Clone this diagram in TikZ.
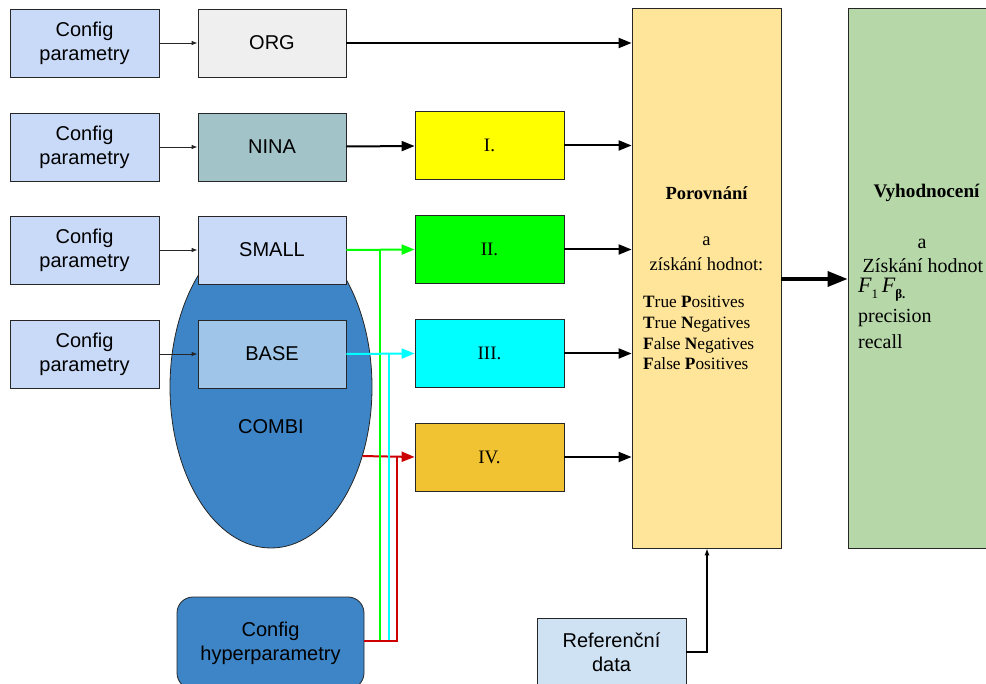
\documentclass[tikz,border=0pt]{standalone}
\usepackage{fontspec}
\setmainfont{Liberation Serif}
\setsansfont{Liberation Sans}
\usetikzlibrary{arrows.meta,shapes.geometric}

\definecolor{cfgblue}{HTML}{C9DAF8}
\definecolor{orggray}{HTML}{EFEFEF}
\definecolor{ninateal}{HTML}{A2C4C9}
\definecolor{basebl}{HTML}{9FC5E8}
\definecolor{combibl}{HTML}{3D85C6}
\definecolor{refbl}{HTML}{CFE2F3}
\definecolor{boxyel}{HTML}{FFFF00}
\definecolor{boxgrn}{HTML}{00FF00}
\definecolor{boxcyn}{HTML}{00FFFF}
\definecolor{boxorg}{HTML}{F1C232}
\definecolor{porfill}{HTML}{FFE599}
\definecolor{vyhfill}{HTML}{B6D7A8}
\definecolor{linegrn}{HTML}{00FF00}
\definecolor{linecyn}{HTML}{00FFFF}
\definecolor{linered}{HTML}{CC0000}

\begin{document}
\begin{tikzpicture}[x=1pt,y=-1pt,
  sansfont/.style={font=\sffamily\fontsize{20}{24}\selectfont},
  seriffont/.style={font=\rmfamily\fontsize{18.5}{21}\selectfont},
  listfont/.style={font=\rmfamily\fontsize{17.3}{20.7}\selectfont},
  evalfont/.style={font=\rmfamily\fontsize{20}{24}\selectfont},
  box/.style={draw=black!85, line width=0.8pt, minimum width=149pt,
    minimum height=68pt, inner sep=0pt, align=center, sansfont},
  numbox/.style={box, font=\rmfamily\fontsize{19}{22}\selectfont},
  tallbox/.style={draw=black!85, line width=0.8pt, minimum width=149pt,
    minimum height=540pt, inner sep=0pt},
  thin/.style={draw=black!85, line width=0.8pt, -{Latex[length=6pt,width=4.5pt]}},
  reflink/.style={draw=black, line width=1.1pt, -{Latex[length=7pt,width=5pt]}},
  flow/.style={line width=2pt, -{Triangle[length=13pt,width=10pt]}},
  bigflow/.style={line width=3.5pt, -{Triangle[length=20pt,width=15pt]}},
  wire/.style={line width=2pt},
  lbl/.style={inner sep=0pt, anchor=center}]

\useasboundingbox (0,0) rectangle (986,684);
\clip (0,0) rectangle (986,684);

% COMBI ellipse behind the SMALL and BASE models
\node[ellipse, draw=black!85, line width=0.8pt, fill=combibl,
  minimum width=202pt, minimum height=322pt, inner sep=0pt] (combi) at (271,387) {};
\node[lbl, sansfont] (combilbl) at (271,427) {COMBI};

% parameter boxes
\node[box, fill=cfgblue] (cfg1) at (84.5,43)  {Config\\parametry};
\node[box, fill=cfgblue] (cfg2) at (84.5,147) {Config\\parametry};
\node[box, fill=cfgblue] (cfg3) at (84.5,250) {Config\\parametry};
\node[box, fill=cfgblue] (cfg4) at (84.5,354) {Config\\parametry};

% models
\node[box, minimum width=148pt, fill=orggray]  (org)   at (272,43)  {ORG};
\node[box, minimum width=148pt, fill=ninateal] (nina)  at (272,147) {NINA};
\node[box, minimum width=148pt, fill=cfgblue]  (small) at (272,250) {SMALL};
\node[box, minimum width=148pt, fill=basebl]   (base)  at (272,354) {BASE};

% outputs
\node[numbox, fill=boxyel] (o1) at (489.5,145.5) {I.};
\node[numbox, fill=boxgrn] (o2) at (489.5,249.5) {II.};
\node[numbox, fill=boxcyn] (o3) at (489.5,353.5) {III.};
\node[numbox, fill=boxorg] (o4) at (489.5,457)   {IV.};

% hyperparameters and reference data
\node[box, fill=combibl, rounded corners=16pt, minimum width=187pt,
  minimum height=92pt] (hyper) at (270.5,643) {Config\\hyperparametry};
\node[box, fill=refbl] (ref) at (611.5,652) {Referenční\\data};

% comparison and evaluation columns
\node[tallbox, fill=porfill] (por) at (706.5,278) {};
\node[tallbox, fill=vyhfill] (vyh) at (922.5,278) {};

\node[lbl, seriffont] (portitle) at (706.5,193) {\bfseries Porovnání};
\node[lbl, seriffont] (pora) at (706.5,241) {a};
\node[lbl, seriffont] (porb) at (706.5,264) {získání hodnot:};
\node[listfont, inner sep=0pt, anchor=north west, align=left] (porlist) at (643,296)
  {\textbf{T}rue \textbf{P}ositives\\
   \textbf{T}rue \textbf{N}egatives\\
   \textbf{F}alse \textbf{N}egatives\\
   \textbf{F}alse \textbf{P}ositives};

\node[lbl, font=\rmfamily\bfseries\fontsize{19.2}{22}\selectfont] (vyhtitle) at (926.5,193) {Vyhodnocení};
\node[lbl, evalfont] (vyha) at (922,244) {a};
\node[lbl, evalfont] (vyhb) at (923,266) {Získání hodnot};
\node[evalfont, inner sep=0pt, anchor=west] (vyhf) at (858,290)
  {\fontsize{22}{24}\selectfont\itshape F\raisebox{-0.6ex}{\fontsize{13}{13}\selectfont\upshape 1}\,F\raisebox{-0.6ex}{\fontsize{13}{13}\selectfont\upshape\bfseries β.}};
\node[evalfont, inner sep=0pt, anchor=west] (vyhp) at (858,318) {precision};
\node[evalfont, inner sep=0pt, anchor=west] (vyhr) at (858,342) {recall};

% parameters into models
\draw[thin] (cfg1) -- (org);
\draw[thin] (cfg2) -- (nina);
\draw[thin] (cfg3) -- (small);
\draw[thin] (cfg4) -- (base);

% black flows
\draw[flow] (org.east) -- (org.east -| por.west);
\draw[flow] (nina) -- (o1);
\draw[flow] (o1.east) -- (o1.east -| por.west);
\draw[flow] (o2.east) -- (o2.east -| por.west);
\draw[flow] (o3.east) -- (o3.east -| por.west);
\draw[flow] (o4.east) -- (o4.east -| por.west);
\draw[bigflow] (por.east |- 0,279) -- (vyh.west |- 0,279);

% reference data into the comparison
\coordinate (refbend) at (707,652);
\draw[reflink] (ref.east) -- (refbend) -- (refbend |- por.south);

% coloured model outputs and hyperparameter wires
\coordinate (gwire) at (380,641);
\coordinate (cwire) at (389,641);
\coordinate (rwire) at (397,641);
\draw[flow, linered] (combi.-37.7) -- (o4.west);
\draw[wire, linegrn] (hyper.east |- gwire) -- (gwire) -- (gwire |- small.east);
\draw[flow, linegrn] (small.east) -- (o2.west);
\draw[wire, linecyn] (hyper.east |- cwire) -- (cwire) -- (cwire |- base.east);
\draw[flow, linecyn] (base.east) -- (o3.west);
\draw[wire, linered] (hyper.east |- rwire) -- (rwire) -- (rwire |- o4.west);
\end{tikzpicture}
\end{document}
